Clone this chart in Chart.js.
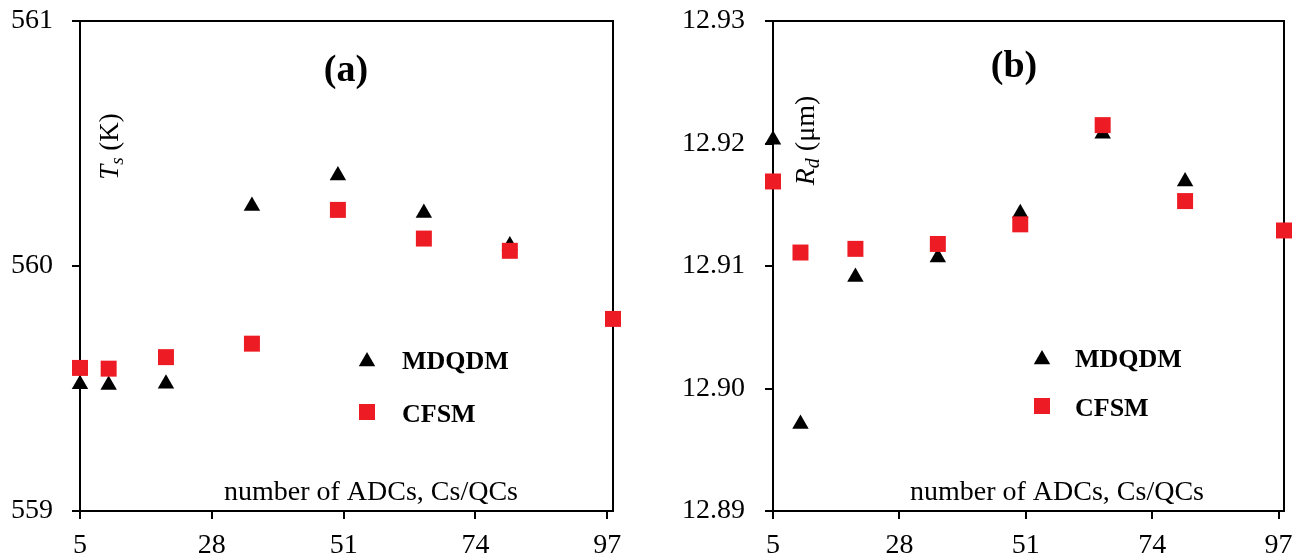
<!DOCTYPE html>
<html><head><meta charset="utf-8">
<script src="https://cdn.jsdelivr.net/npm/chart.js@4.4.1/dist/chart.umd.min.js"></script>
<style>
html,body{margin:0;padding:0;background:#fff;}
#wrap{position:relative;width:1301px;height:560px;overflow:hidden;background:#fff;}
canvas{position:absolute;top:0;}
</style></head><body>
<div id="wrap">
<canvas id="ca" width="650" height="560" style="left:0"></canvas>
<canvas id="cb" width="651" height="560" style="left:650px"></canvas>
</div>
<script>
// ---- data ----
const nodesMDQDM = [5, 10, 20, 35, 50, 65, 80];
const nodesCFSM = [5, 10, 20, 35, 50, 65, 80, 98];
const xTickValues = [5, 28, 51, 74, 97];
const tsMDQDM = [559.517, 559.514, 559.519, 560.245, 560.369, 560.216, 560.084];
const tsCFSM = [559.584, 559.581, 559.628, 559.683, 560.229, 560.112, 560.062, 559.784];
const rdMDQDM = [12.9203, 12.8971, 12.9091, 12.9107, 12.9143, 12.9208, 12.9169];
const rdCFSM = [12.9169, 12.9111, 12.9114, 12.9118, 12.9134, 12.9215, 12.9153, 12.9129];
const tsTickValues = [559, 560, 561];
const rdTickValues = [12.89, 12.90, 12.91, 12.92, 12.93];
const seriesNames = ['MDQDM', 'CFSM'];
const xTitle = 'number of ADCs, Cs/QCs';

const SERIF = '"Liberation Serif", "Times New Roman", serif';
const RED = '#ED1C24';
const TRI_R = 9.5, RECT_R = 11.3;

function pts(xs, ys) { return xs.map((x, i) => ({x: x, y: ys[i]})); }

function framePlugin() {
  return {
    id: 'frame',
    beforeDatasetsDraw(chart) {
      const a = chart.chartArea, ctx = chart.ctx;
      ctx.save();
      ctx.strokeStyle = '#000';
      ctx.lineWidth = 2;
      ctx.beginPath();
      ctx.moveTo(a.left, a.top);
      ctx.lineTo(a.right, a.top);
      ctx.lineTo(a.right, a.bottom);
      ctx.stroke();
      ctx.restore();
    }
  };
}

function drawRich(ctx, parts, cy, baseX) {
  ctx.save();
  ctx.translate(baseX, cy);
  ctx.rotate(-Math.PI / 2);
  let w = 0;
  parts.forEach(p => { ctx.font = p.font; w += ctx.measureText(p.t).width; });
  let u = -w / 2;
  ctx.fillStyle = '#000';
  ctx.textBaseline = 'alphabetic';
  ctx.textAlign = 'left';
  parts.forEach(p => {
    ctx.font = p.font;
    ctx.fillText(p.t, u, p.dy || 0);
    u += ctx.measureText(p.t).width;
  });
  ctx.restore();
}

function textPlugin(o) {
  return {
    id: 'texts',
    afterDraw(chart) {
      const ctx = chart.ctx;
      ctx.save();
      ctx.fillStyle = '#000';
      ctx.font = 'bold 38px ' + SERIF;
      ctx.textAlign = 'center';
      ctx.textBaseline = 'middle';
      ctx.fillText(o.title, o.titleX, o.titleY);
      ctx.font = '28px ' + SERIF;
      ctx.textBaseline = 'alphabetic';
      ctx.fillText(xTitle, o.xtX, o.xtBase);
      drawRich(ctx, o.yParts, o.ytY, o.ytBase);
      ctx.fillStyle = '#000';
      Chart.helpers.drawPoint(ctx, {pointStyle: 'triangle', radius: TRI_R, rotation: 0, borderWidth: 0}, o.legX, o.legY1 + TRI_R / 4);
      ctx.fillStyle = RED;
      Chart.helpers.drawPoint(ctx, {pointStyle: 'rect', radius: RECT_R, rotation: 0, borderWidth: 0}, o.legX, o.legY2);
      ctx.fillStyle = '#000';
      ctx.font = 'bold 26px ' + SERIF;
      ctx.textAlign = 'left';
      ctx.textBaseline = 'alphabetic';
      ctx.fillText(seriesNames[0], o.legTextX, o.legY1 + 9.5);
      ctx.fillText(seriesNames[1], o.legTextX, o.legY2 + 9.5);
      ctx.restore();
    }
  };
}

function makePanel(id, cfg) {
  const axisLine = {display: true, color: '#000', width: 2};
  const grid = {display: true, drawOnChartArea: false, drawTicks: true, tickLength: 8, color: '#000', lineWidth: 2};
  return new Chart(document.getElementById(id), {
    type: 'scatter',
    data: {
      datasets: [
        {label: seriesNames[1], data: pts(nodesCFSM, cfg.cfsm), order: 0, pointStyle: 'rect', pointRadius: RECT_R, pointHoverRadius: RECT_R,
         backgroundColor: RED, borderColor: RED, pointBorderWidth: 0, borderWidth: 0, clip: false},
        {label: seriesNames[0], data: pts(nodesMDQDM, cfg.mdqdm), order: 1, pointStyle: 'triangle', pointRadius: TRI_R, pointHoverRadius: TRI_R,
         backgroundColor: '#000', borderColor: '#000', pointBorderWidth: 0, borderWidth: 0, clip: false}
      ]
    },
    options: {
      responsive: false,
      devicePixelRatio: 1,
      animation: false,
      events: [],
      layout: {padding: {top: 21, right: cfg.padRight, left: 0, bottom: 0}},
      plugins: {legend: {display: false}, tooltip: {enabled: false}, title: {display: false}},
      scales: {
        x: {
          type: 'linear', position: 'bottom', min: 5, max: 98,
          border: axisLine, grid: grid,
          ticks: {color: '#000', font: {family: SERIF, size: 28}, padding: 10, maxRotation: 0, autoSkip: false},
          afterBuildTicks(s) { s.ticks = xTickValues.map(v => ({value: v})); },
          afterFit(s) { s.height = 49; s.paddingLeft = 0; s.paddingRight = 0; }
        },
        y: {
          type: 'linear', position: 'left', min: cfg.ymin, max: cfg.ymax,
          border: axisLine, grid: grid,
          ticks: {color: '#000', font: {family: SERIF, size: 28}, padding: cfg.yPad, autoSkip: false,
                  callback: cfg.fmt},
          afterBuildTicks(s) { s.ticks = cfg.yticks.map(v => ({value: v})); },
          afterFit(s) { s.width = cfg.yWidth; s.paddingTop = 0; s.paddingBottom = 0; }
        }
      }
    },
    plugins: [framePlugin(), textPlugin(cfg.text)]
  });
}

makePanel('ca', {
  mdqdm: tsMDQDM, cfsm: tsCFSM, ymin: 559, ymax: 561, yticks: tsTickValues,
  fmt: v => String(Math.round(v)), yPad: 19, yWidth: 80, padRight: 37,
  text: {
    title: '(a)', titleX: 346, titleY: 71,
    xtX: 371, xtBase: 500,
    yParts: [
      {t: 'T', font: 'italic 27px ' + SERIF},
      {t: 's', font: 'italic 19px ' + SERIF, dy: 5},
      {t: ' (K)', font: '27px ' + SERIF}
    ],
    ytY: 146.5, ytBase: 118,
    legX: 367, legY1: 359, legY2: 412, legTextX: 402
  }
});

makePanel('cb', {
  mdqdm: rdMDQDM, cfsm: rdCFSM, ymin: 12.89, ymax: 12.93, yticks: rdTickValues,
  fmt: v => v.toFixed(2), yPad: 20, yWidth: 123, padRight: 17,
  text: {
    title: '(b)', titleX: 364, titleY: 67,
    xtX: 407, xtBase: 500,
    yParts: [
      {t: 'R', font: 'italic 28px ' + SERIF},
      {t: 'd', font: 'italic 20px ' + SERIF, dy: 5},
      {t: ' (\u03BCm)', font: '28px ' + SERIF}
    ],
    ytY: 140.5, ytBase: 164,
    legX: 392, legY1: 357, legY2: 406, legTextX: 425
  }
});
</script>
</body></html>
